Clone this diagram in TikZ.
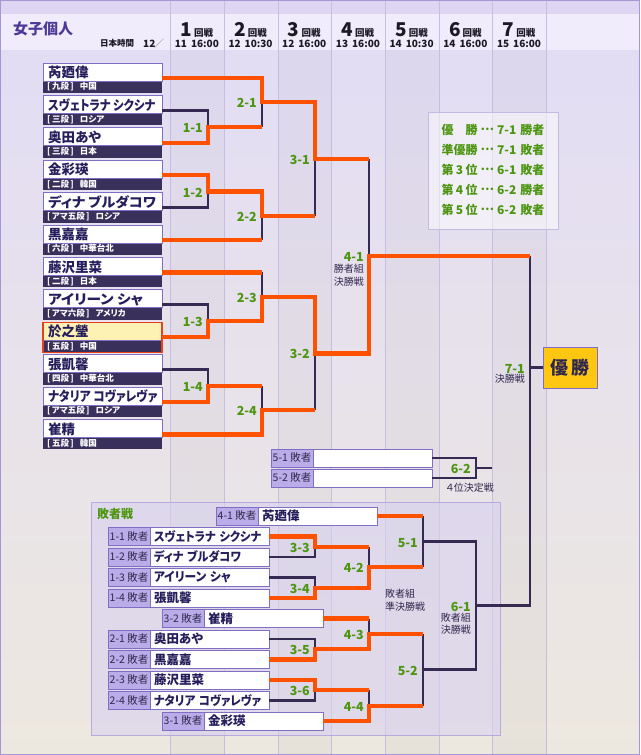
\documentclass[tikz,border=0pt]{standalone}
\usepackage{fontspec}
\usepackage{graphicx}
\setmainfont{Noto Sans CJK JP}[RawFeature=+palt]
\usetikzlibrary{calc}

\definecolor{bgtop}{RGB}{226,220,246}
\definecolor{bgbot}{RGB}{237,232,223}
\definecolor{headlight}{RGB}{240,236,251}
\definecolor{headdark}{RGB}{221,213,242}
\definecolor{framec}{RGB}{165,150,212}
\definecolor{collinec}{RGB}{198,190,222}
\definecolor{boxlinec}{RGB}{128,110,196}
\definecolor{rankc}{RGB}{58,48,92}
\definecolor{namec}{RGB}{38,30,92}
\definecolor{cwin}{RGB}{255,82,0}
\definecolor{clos}{RGB}{52,42,82}
\definecolor{grn}{RGB}{78,150,18}
\definecolor{lblc}{RGB}{186,172,232}
\definecolor{panelc}{RGB}{216,209,240}
\definecolor{panellinec}{RGB}{182,170,222}
\definecolor{goldc}{RGB}{255,198,18}
\definecolor{hlc}{RGB}{254,241,180}
\definecolor{hllinec}{RGB}{232,66,26}
\definecolor{titlec}{RGB}{78,58,150}
\definecolor{darkc}{RGB}{48,40,78}
\definecolor{legline}{RGB}{196,186,228}
\definecolor{hdtxt}{RGB}{28,24,36}

\tikzset{
  pbox/.style={minimum width=119pt, minimum height=30pt, inner sep=0pt, outer sep=0pt},
  boxedge/.style={draw=boxlinec, line width=0.8pt},
  nametxt/.style={anchor=west, inner sep=0pt, text=namec, font=\fontsize{13.5}{13.5}\selectfont\bfseries},
  ranktxt/.style={anchor=west, inner sep=0pt, text=white, font=\fontsize{8.5}{8.5}\selectfont\bfseries},
  lwhite/.style={fill=white, draw=boxlinec, line width=0.8pt, text width=111pt, inner xsep=4pt, inner ysep=0pt, minimum height=18pt, align=left, text=namec, font=\fontsize{12.5}{12.5}\selectfont\bfseries, outer sep=0pt},
  llab/.style={fill=lblc, draw=boxlinec, line width=0.8pt, minimum width=42pt, minimum height=18pt, inner sep=0pt, text=darkc, font=\fontsize{10.5}{10.5}\selectfont, outer sep=0pt},
  winline/.style={draw=cwin, line width=4.2pt},
  loseline/.style={draw=clos, line width=2.8pt},
  lab/.style={anchor=east, inner sep=0pt, text=grn, font=\fontsize{12.5}{12.5}\selectfont\bfseries},
  subtxt/.style={inner sep=0pt, text=darkc, align=right, font=\fontsize{10}{12.5}\selectfont},
  rnd/.style={anchor=base, inner sep=0pt, text=hdtxt},
  datetxt/.style={anchor=base, inner sep=0pt, text=hdtxt, font=\fontsize{10}{10}\selectfont\bfseries},
  legendbox/.style={draw=legline, line width=0.8pt, fill=white, fill opacity=0.5, text opacity=1, minimum width=130pt, minimum height=117pt, inner sep=0pt, text=grn, font=\fontsize{12}{20}\selectfont\bfseries},
  champ/.style={fill=goldc, draw=boxlinec, line width=0.8pt, minimum width=54pt, minimum height=41pt, inner sep=0pt, text=darkc, font=\fontsize{18}{18}\selectfont\bfseries},
}

\newcommand\fitw[2]{\resizebox{#1}{\height}{#2}}
\newcommand\dotsc{\raisebox{0.3em}{…}}
\newcommand\plyr[4]{%
  \pgfmathsetmacro\ytop{63+(#1-1)*32.4}
  \node[pbox] (p#1) at (102.5,\ytop+15) {};
  \fill[#4] (p#1.north west) rectangle ([yshift=12pt]p#1.south east);
  \fill[rankc] ([yshift=12pt]p#1.south west) rectangle (p#1.south east);
  \draw[boxedge] (p#1.north west) rectangle ([yshift=12pt]p#1.south east);
  \node[nametxt] (n#1) at ([xshift=5pt,yshift=-9.5pt]p#1.north west) {#2};
  \node[ranktxt] (rk#1) at ([xshift=4pt,yshift=6pt]p#1.south west) {#3};
}
\newcommand\lrow[5]{%
  \node[lwhite, anchor=west] (#1) at (#2,#3) {#5};
  \node[llab, anchor=east] (#1t) at (#1.west) {#4};
}

\begin{document}
\begin{tikzpicture}[x=1pt,y=-1pt]
\useasboundingbox (0,0) rectangle (640,755);
% background
\shade[top color=bgtop,bottom color=bgbot] (0,0) rectangle (640,755);
\fill[headdark] (0,0) rectangle (640,14);
\fill[headlight] (0,14) rectangle (640,50);
\foreach \a in {170,278,385,492} \fill[black,opacity=.025] (\a,50) rectangle ({\a+54},755);
\foreach \a in {170,224,278,331,385,439,492,546} \draw[collinec, line width=.8pt] (\a,0) -- (\a,755);

% header
\node[anchor=west, inner sep=0pt, text=titlec, font=\fontsize{15}{15}\selectfont\bfseries] (title) at (13,28.5) {女子個人};
\node[anchor=base west, inner sep=0pt, text=hdtxt, font=\fontsize{8.5}{8.5}\selectfont\bfseries] (jst) at (100,46.8) {日本時間};
\node[anchor=base west, inner sep=0pt, text=hdtxt, font=\fontsize{10}{10}\selectfont\bfseries] (mon) at (143,47.5) {12};
\node[anchor=base west, inner sep=0pt, text=gray, font=\fontsize{10}{10}\selectfont] (sl) at (154,47.5) {／};
\foreach \rk/\rd/\rt in {1/11/16:00,2/12/10:30,3/12/16:00,4/13/16:00,5/14/10:30,6/14/16:00,7/15/16:00}{
  \node[rnd] (hd\rk) at ({170+(\rk-0.5)*53.7},36) {{\fontsize{19}{19}\selectfont\bfseries\rk}\hspace{2pt}{\fontsize{9.5}{9.5}\selectfont\bfseries 回戦}};
  \node[datetxt] (dt\rk) at ({170+(\rk-0.5)*53.7},47.5) {\rd\hspace{4pt}\rt};
}

% frame
\draw[framec, line width=1pt] (0.5,0.5) rectangle (639.5,754.5);

% loser panel
\draw[panellinec, line width=0.8pt, fill=panelc, fill opacity=.6] (91,502) rectangle (500,735);
\node[anchor=west, inner sep=0pt, text=grn, font=\fontsize{12}{12}\selectfont\bfseries] (lhead) at (97,514) {敗者戦};

% legend
\node[legendbox] (leg) at (493,170.5) {\begin{tabular}{@{}l@{\hspace{3pt}}c@{\hspace{3pt}}l@{\hspace{4pt}}l@{}}
優\hspace{1em}勝 & \dotsc & 7-1 & 勝者\\
準優勝 & \dotsc & 7-1 & 敗者\\
第\makebox[1em]{3}位 & \dotsc & 6-1 & 敗者\\
第\makebox[1em]{4}位 & \dotsc & 6-2 & 勝者\\
第\makebox[1em]{5}位 & \dotsc & 6-2 & 敗者
\end{tabular}};

% players
\plyr{1}{芮廼偉}{[\,九段\,]\hspace{6pt}中国}{white}
\plyr{2}{\fitw{107pt}{スヴェトラナ シクシナ}}{[\,三段\,]\hspace{6pt}ロシア}{white}
\plyr{3}{奥田あや}{[\,三段\,]\hspace{6pt}日本}{white}
\plyr{4}{金彩瑛}{[\,二段\,]\hspace{6pt}韓国}{white}
\plyr{5}{\fitw{108pt}{ディナ ブルダコワ}}{[\,アマ五段\,]\hspace{6pt}ロシア}{white}
\plyr{6}{黒嘉嘉}{[\,六段\,]\hspace{6pt}中華台北}{white}
\plyr{7}{藤沢里菜}{[\,二段\,]\hspace{6pt}日本}{white}
\plyr{8}{\fitw{95pt}{アイリーン シャ}}{[\,アマ六段\,]\hspace{6pt}アメリカ}{white}
\plyr{9}{於之瑩}{[\,五段\,]\hspace{6pt}中国}{hlc}
\plyr{10}{張凱馨}{[\,四段\,]\hspace{6pt}中華台北}{white}
\plyr{11}{\fitw{109pt}{ナタリア コヴァレヴァ}}{[\,アマ五段\,]\hspace{6pt}ロシア}{white}
\plyr{12}{崔精}{[\,五段\,]\hspace{6pt}韓国}{white}
\draw[hllinec, line width=1.3pt] (p9.north west) rectangle (p9.south east);

% loser rows
\lrow{l41}{258}{516}{4-1 敗者}{芮廼偉}
\lrow{l11}{150}{536.5}{1-1 敗者}{\fitw{107pt}{スヴェトラナ シクシナ}}
\lrow{l12}{150}{557}{1-2 敗者}{\fitw{87pt}{ディナ ブルダコワ}}
\lrow{l13}{150}{577.5}{1-3 敗者}{\fitw{77pt}{アイリーン シャ}}
\lrow{l14}{150}{598}{1-4 敗者}{張凱馨}
\lrow{l32}{204}{618.5}{3-2 敗者}{崔精}
\lrow{l21}{150}{639}{2-1 敗者}{奥田あや}
\lrow{l22}{150}{659.5}{2-2 敗者}{黒嘉嘉}
\lrow{l23}{150}{680}{2-3 敗者}{藤沢里菜}
\lrow{l24}{150}{700.5}{2-4 敗者}{\fitw{107pt}{ナタリア コヴァレヴァ}}
\lrow{l31}{204}{721}{3-1 敗者}{金彩瑛}
\lrow{e51}{313}{458}{5-1 敗者}{}
\lrow{e52}{313}{478}{5-2 敗者}{}

% champion
\node[champ] (champ) at (570,367.5) {優\hspace{3pt}勝};

% columns of match verticals
\coordinate (X1) at (208,0);
\coordinate (X2) at (262,0);
\coordinate (X3) at (315,0);
\coordinate (X4) at (369,0);
\coordinate (X5) at (423,0);
\coordinate (X6) at (476,0);
\coordinate (X7) at (530,0);

\coordinate (m11) at ($(p2.east)!.5!(p3.east)+(46,0)$);
\coordinate (m12) at ($(p4.east)!.5!(p5.east)+(46,0)$);
\coordinate (m13) at ($(p8.east)!.5!(p9.east)+(46,0)$);
\coordinate (m14) at ($(p10.east)!.5!(p11.east)+(46,0)$);
\coordinate (m21) at ($(p1.east -| X2)!.5!(m11 -| X2)$);
\coordinate (m22) at ($(m12 -| X2)!.5!(p6.east -| X2)$);
\coordinate (m23) at ($(p7.east -| X2)!.5!(m13 -| X2)$);
\coordinate (m24) at ($(m14 -| X2)!.5!(p12.east -| X2)$);
\coordinate (m31) at ($(m21 -| X3)!.5!(m22 -| X3)$);
\coordinate (m32) at ($(m23 -| X3)!.5!(m24 -| X3)$);
\coordinate (m41) at ($(m31 -| X4)!.5!(m32 -| X4)$);

\coordinate (m33) at ($(l11.east -| X3)!.5!(l12.east -| X3)$);
\coordinate (m34) at ($(l13.east -| X3)!.5!(l14.east -| X3)$);
\coordinate (m35) at ($(l21.east -| X3)!.5!(l22.east -| X3)$);
\coordinate (m36) at ($(l23.east -| X3)!.5!(l24.east -| X3)$);
\coordinate (m42) at ($(m33 -| X4)!.5!(m34 -| X4)$);
\coordinate (m43) at ($(l32.east -| X4)!.5!(m35 -| X4)$);
\coordinate (m44) at ($(m36 -| X4)!.5!(l31.east -| X4)$);
\coordinate (m51) at ($(l41.east -| X5)!.5!(m42 -| X5)$);
\coordinate (m52) at ($(m43 -| X5)!.5!(m44 -| X5)$);
\coordinate (m61) at ($(m51 -| X6)!.5!(m52 -| X6)$);
\coordinate (m62) at ($(e51.east -| X6)!.5!(e52.east -| X6)$);
\coordinate (m62e) at ($(m62)+(16,0)$);
\coordinate (c71) at (champ.west -| X7);

% dark (lost) lines
\begin{scope}[loseline]
\draw (p2.east) -| (m11);
\draw (p5.east) -| (m12);
\draw (p8.east) -| (m13);
\draw (p10.east) -| (m14);
\draw (m11 -| X2) -- (m21);
\draw (p6.east -| X2) -- (m22);
\draw (p7.east -| X2) -- (m23);
\draw (m14 -| X2) -- (m24);
\draw (m22 -| X3) -- (m31);
\draw (m24 -| X3) -- (m32);
\draw (m31 -| X4) -- (m41);
\draw (m41 -| X7) -- (m61 -| X7) -- (m61);
\draw (c71) -- (champ.west);
\draw (l12.east) -| (m33);
\draw (l13.east) -| (m34);
\draw (l21.east) -| (m35);
\draw (l24.east) -| (m36);
\draw (m33 -| X4) -- (m42);
\draw (l32.east -| X4) -- (m43);
\draw (m36 -| X4) -- (m44);
\draw (l41.east -| X5) -- (m42 -| X5);
\draw (m43 -| X5) -- (m44 -| X5);
\draw (m51) -| (m52 -| X6) -- (m52);
\draw (e51.east) -| (m62);
\draw (e52.east) -| (m62);
\draw (m62) -- (m62e);
\end{scope}

% orange (won) lines
\begin{scope}[winline]
\draw (p1.east) -| (m21) -| (m31) -- (m31 -| X4);
\draw (p3.east) -| (m11) -- (m11 -| X2);
\draw (p4.east) -| (m12) -| (m22) -- (m22 -| X3);
\draw (p6.east) -- (p6.east -| X2);
\draw (p7.east) -- (p7.east -| X2);
\draw (p9.east) -| (m13) -| (m23) -| (m32) -| (m41) -- (m41 -| X7);
\draw (p11.east) -| (m14) -- (m14 -| X2);
\draw (p12.east) -| (m24) -- (m24 -| X3);
\draw (l11.east) -| (m33) -- (m33 -| X4);
\draw (l14.east) -| (m34) -| (m42) -- (m42 -| X5);
\draw (l41.east) -- (l41.east -| X5);
\draw (l32.east) -- (l32.east -| X4);
\draw (l22.east) -| (m35) -| (m43) -- (m43 -| X5);
\draw (l23.east) -| (m36) -- (m36 -| X4);
\draw (l31.east) -| (m44) -- (m44 -| X5);
\end{scope}

% match labels
\foreach \m/\t in {m11/1-1,m12/1-2,m13/1-3,m14/1-4,m21/2-1,m22/2-2,m23/2-3,m24/2-4,m31/3-1,m32/3-2,m33/3-3,m34/3-4,m35/3-5,m36/3-6,m42/4-2,m43/4-3,m44/4-4,m51/5-1,m52/5-2,m62/6-2}
  \node[lab] (t\m) at ([xshift=-5pt,yshift=-1pt]\m) {\t};
\node[lab] (tm41) at ([xshift=-5pt,yshift=-1pt]m41) {4-1};
\node[subtxt, anchor=north east] (sm41) at ([yshift=-2pt]tm41.south east) {勝者組\\決勝戦};
\node[lab] (tm61) at ([xshift=-5pt,yshift=-1pt]m61) {6-1};
\node[subtxt, anchor=north east] (sm61) at ([yshift=-1pt]tm61.south east) {敗者組\\決勝戦};
\node[lab] (tm71) at ([xshift=-5pt,yshift=-1pt]c71) {7-1};
\node[subtxt, anchor=north east] (sm71) at ([yshift=-1pt]tm71.south east) {決勝戦};
\node[subtxt, anchor=north west, align=left] (semi) at (385,589) {敗者組\\準決勝戦};
\node[subtxt] (fourth) at (470,488) {４位決定戦};
\end{tikzpicture}
\end{document}
